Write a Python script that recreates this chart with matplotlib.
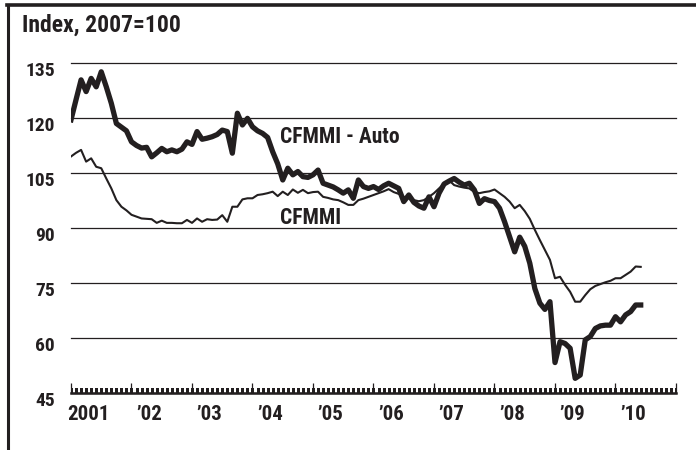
import numpy as np
import matplotlib
matplotlib.use('Agg')
import matplotlib.pyplot as plt
from matplotlib.lines import Line2D
from matplotlib.transforms import offset_copy

plt.rcParams['font.family'] = ['Liberation Sans Narrow', 'Roboto Condensed', 'DejaVu Sans']
plt.rcParams['font.weight'] = 'bold'

# monthly index, Jan 2001 onwards (2007=100)
auto_excl = [119.5, 125.0, 130.4, 127.2, 130.8, 128.5, 132.6, 128.5, 124.0, 118.5,
             117.5, 116.5, 113.5, 112.5, 111.8, 112.0, 109.4, 110.5, 111.7, 110.8,
             111.3, 110.8, 111.5, 113.5, 112.8, 116.3, 114.2, 114.5, 114.9, 115.5,
             116.7, 116.3, 110.4, 121.3, 118.1, 119.9, 117.6, 116.5, 115.8, 114.7,
             110.8, 107.5, 103.1, 106.3, 104.5, 105.4, 104.0, 103.8, 104.5, 105.8,
             102.2, 101.7, 101.2, 100.4, 99.5, 100.4, 98.1, 103.1, 101.3, 100.8,
             101.3, 100.5, 101.5, 102.2, 101.5, 100.8, 97.2, 99.0, 97.0, 96.0,
             95.4, 98.5, 95.8, 99.5, 102.0, 102.8, 103.5, 102.5, 101.7, 102.2,
             100.4, 96.7, 98.0, 97.5, 97.2, 95.4, 91.7, 87.6, 83.5, 87.5,
             85.0, 80.4, 73.5, 69.5, 67.8, 69.9, 53.3, 59.0, 58.5, 57.2,
             49.0, 49.9, 59.5, 60.4, 62.6, 63.3, 63.5, 63.5, 65.8, 64.4,
             66.3, 67.2, 69.0, 69.0]

cfmmi = [109.5, 110.5, 111.3, 108.1, 109.0, 106.7, 106.3, 103.5, 100.8, 97.6,
         95.8, 94.8, 93.6, 93.1, 92.6, 92.5, 92.4, 91.4, 92.0, 91.4,
         91.4, 91.3, 91.3, 92.2, 91.4, 92.6, 91.7, 92.4, 92.2, 92.3,
         93.5, 91.7, 95.8, 95.8, 97.8, 98.1, 98.1, 99.0, 99.2, 99.5,
         99.9, 98.7, 99.9, 99.0, 100.5, 99.6, 100.4, 99.5, 99.8, 99.9,
         98.5, 98.2, 97.8, 97.6, 97.0, 96.3, 96.3, 97.6, 98.0, 98.5,
         99.0, 99.5, 100.0, 100.6, 99.8, 99.3, 98.5, 98.1, 97.6, 97.3,
         97.6, 98.5, 99.5, 100.8, 102.0, 103.0, 101.7, 101.3, 101.0, 100.8,
         99.8, 99.5, 99.8, 100.0, 100.5, 99.5, 98.5, 97.2, 95.4, 96.3,
         94.6, 92.5, 89.5, 86.7, 84.0, 81.3, 76.3, 76.7, 74.5, 72.6,
         69.9, 69.9, 71.7, 73.3, 74.2, 74.7, 75.2, 75.6, 76.3, 76.3,
         77.2, 78.1, 79.5, 79.4]

years = list(range(2001, 2012))
year_labels = ['2001', "\u201902", "\u201903", "\u201904", "\u201905", "\u201906",
               "\u201907", "\u201908", "\u201909", "\u201910"]
yticks = [45, 60, 75, 90, 105, 120, 135]

t = 2001 + np.arange(len(auto_excl)) / 12.0
months = 2001 + np.arange(0, 121) / 12.0

fig = plt.figure(figsize=(6.96, 4.5), dpi=100)
ax = fig.add_axes([71/696, 57/450, 605/696, 330/450])

ax.plot(t, cfmmi, color='#231f20', lw=1.5, solid_joinstyle='round')
ax.plot(t, auto_excl, color='#231f20', lw=3.8, solid_joinstyle='round')

ax.set_xlim(2001, 2011)
ax.set_ylim(45, 135)

for s in ['left', 'right', 'top']:
    ax.spines[s].set_visible(False)
ax.spines['bottom'].set_linewidth(1.8)
ax.spines['bottom'].set_color('#231f20')
ax.spines['bottom'].set_zorder(3)

# year ticks and monthly ticks pointing up from the base line
ax.set_xticks(years)
ax.set_xticklabels([])
ax.tick_params(axis='x', which='major', direction='in', length=7.5, width=0.9, color='#231f20')
ax.vlines(months, 45, 45 + 1.5, color='#231f20', lw=0.9, zorder=2,
          antialiased=False)

ax.set_yticks(yticks)
ax.set_yticklabels([])
ax.tick_params(axis='y', length=0)
ax.grid(axis='y', color='#231f20', lw=0.9)
for gl in ax.get_ygridlines():
    gl.set_clip_on(False)

# y labels, top edge roughly level with the gridline
ytr = offset_copy(ax.get_yaxis_transform(), fig=fig, x=-16, y=-13, units='dots')
for v in yticks:
    ax.text(0, v, str(v), transform=ytr, ha='right', va='baseline',
            fontsize=14, fontweight='bold', color='#231f20')

xtr = offset_copy(ax.get_xaxis_transform(), fig=fig, x=0, y=-27, units='dots')
for yr, lab in zip(years[:-1], year_labels):
    ax.text(yr + 0.29, 0, lab, transform=xtr, ha='center', va='baseline',
            fontsize=15, fontweight='bold', color='#231f20')

ax.text(2004.45, 113.2, 'CFMMI - Auto', ha='left', va='baseline',
        fontsize=15.5, fontweight='bold', color='#231f20')
ax.text(2004.45, 91.1, 'CFMMI', ha='left', va='baseline',
        fontsize=15.5, fontweight='bold', color='#231f20')

fig.text(22/696, 1 - 32/450, 'Index, 2007=100', ha='left', va='baseline',
         fontsize=17, fontweight='bold', color='#231f20')

# frame: top and left edges only
fig.add_artist(Line2D([7.5/696, 7.5/696], [0, 1 - 5/450], transform=fig.transFigure,
                      color='#231f20', lw=2.2))
fig.add_artist(Line2D([6.5/696, 1], [1 - 5/450, 1 - 5/450], transform=fig.transFigure,
                      color='#231f20', lw=2.6))

fig.savefig('out.png', dpi=100)
